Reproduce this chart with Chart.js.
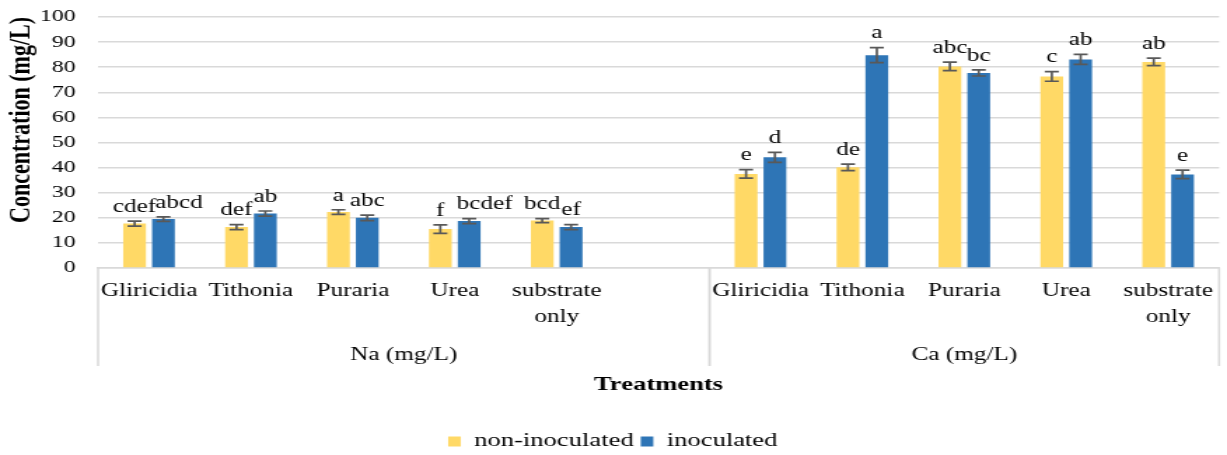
<!DOCTYPE html>
<html>
<head>
<meta charset="utf-8">
<script src="https://cdn.jsdelivr.net/npm/chart.js@4.4.1/dist/chart.umd.min.js"></script>
<style>
  html, body { margin: 0; padding: 0; background: #fff; overflow: hidden; }
  /* el original está estirado en horizontal, así que se estira el lienzo */
  #wrap { width: 876px; height: 455px; transform: scaleX(1.4007); transform-origin: 0 0; }
</style>
</head>
<body>
<div id="wrap"><canvas id="chart" width="876" height="455"></canvas></div>
<script>
// Categorías del eje X (la posición vacía separa Na de Ca)
const categories = ['Gliricidia', 'Tithonia', 'Puraria', 'Urea', ['substrate', 'only'], '',
                    'Gliricidia', 'Tithonia', 'Puraria', 'Urea', ['substrate', 'only']];
const groups = ['Na (mg/L)', 'Ca (mg/L)'];
const groupSize = [6, 5];

// Valores medios y errores
const nonInoculated = [17.7, 16.3, 22.3, 15.5, 18.9, null, 37.5, 40.1, 80.3, 76.3, 82.1];
const inoculated    = [19.5, 21.7, 20.0, 18.7, 16.3, null, 44.1, 84.8, 77.7, 83.1, 37.3];
const errNon        = [1.0, 1.0, 0.9, 1.7, 0.8, null, 1.7, 1.3, 1.7, 1.9, 1.5];
const errInoc       = [0.9, 1.0, 1.1, 1.0, 1.0, null, 2.0, 3.0, 1.2, 2.0, 1.7];

// Letras de significancia
const lettersNon  = ['cdef', 'def', 'a', 'f', 'bcd', '', 'e', 'de', 'abc', 'c', 'ab'];
const lettersInoc = ['abcd', 'ab', 'abc', 'bcdef', 'ef', '', 'd', 'a', 'bc', 'ab', 'e'];

const yTicks = [0, 10, 20, 30, 40, 50, 60, 70, 80, 90, 100];

const serif = 'Liberation Serif, "Times New Roman", serif';

// Plugin: barras de error y letras encima
const errorBars = {
  id: 'errorBars',
  afterDatasetsDraw(chart) {
    const ctx = chart.ctx;
    const y = chart.scales.y;
    chart.data.datasets.forEach((ds, i) => {
      const meta = chart.getDatasetMeta(i);
      meta.data.forEach((bar, j) => {
        const v = ds.data[j];
        if (v == null) return;
        const e = ds.errors[j];
        const top = y.getPixelForValue(v + e);
        const bot = y.getPixelForValue(v - e);
        ctx.save();
        ctx.strokeStyle = '#595959';
        ctx.lineWidth = 1.7;
        ctx.beginPath();
        ctx.moveTo(bar.x, top); ctx.lineTo(bar.x, bot);
        ctx.moveTo(bar.x - 5, top); ctx.lineTo(bar.x + 5, top);
        ctx.moveTo(bar.x - 5, bot); ctx.lineTo(bar.x + 5, bot);
        ctx.stroke();
        // algunas letras se desplazan para no chocar (como en el original)
        const shift = (ds.letters[j] === 'abcd' || ds.letters[j] === 'bcdef') ? 11 : 0;
        ctx.fillStyle = '#000';
        ctx.font = '18px ' + serif;
        ctx.textAlign = 'center';
        ctx.textBaseline = 'bottom';
        ctx.fillText(ds.letters[j], bar.x + shift, top - 5);
        ctx.restore();
      });
    });
  }
};

// Plugin: separadores y nombres de grupo bajo el eje X
const groupLabels = {
  id: 'groupLabels',
  afterDraw(chart) {
    const ctx = chart.ctx;
    const x = chart.scales.x;
    const half = (x.getPixelForValue(1) - x.getPixelForValue(0)) / 2;
    const top = x.top, bottom = x.top + 98;
    ctx.save();
    ctx.strokeStyle = '#d9d9d9';
    ctx.lineWidth = 1.5;
    let start = 0;
    groups.forEach((g, k) => {
      const left = x.getPixelForValue(start) - half;
      const right = x.getPixelForValue(start + groupSize[k] - 1) + half;
      ctx.beginPath();
      ctx.moveTo(left, top); ctx.lineTo(left, bottom);
      ctx.moveTo(right, top); ctx.lineTo(right, bottom);
      ctx.stroke();
      ctx.fillStyle = '#000';
      ctx.font = '18px ' + serif;
      ctx.textAlign = 'center';
      ctx.textBaseline = 'middle';
      ctx.fillText(g, (left + right) / 2, x.top + 87);
      start += groupSize[k];
    });
    ctx.restore();
  }
};

const ctx = document.getElementById('chart').getContext('2d');
const chart = new Chart(ctx, {
  type: 'bar',
  data: {
    labels: categories,
    datasets: [
      { label: 'non-inoculated', data: nonInoculated, errors: errNon, letters: lettersNon,
        backgroundColor: '#FFD966', categoryPercentage: 0.566, barPercentage: 0.79 },
      { label: 'inoculated', data: inoculated, errors: errInoc, letters: lettersInoc,
        backgroundColor: '#2E75B6', categoryPercentage: 0.566, barPercentage: 0.79 }
    ]
  },
  options: {
    responsive: false,
    animation: false,
    devicePixelRatio: 1,
    layout: { padding: { top: 17, right: 1, bottom: -6, left: 0 } },
    plugins: {
      legend: {
        position: 'bottom',
        labels: { boxWidth: 9, boxHeight: 10, padding: 5, color: '#000',
                  font: { family: serif, size: 19 } }
      },
      tooltip: { enabled: false }
    },
    scales: {
      x: {
        grid: { display: false, drawTicks: false },
        border: { display: true, color: '#d9d9d9', width: 1.5 },
        ticks: { padding: 10, color: '#000', maxRotation: 0, autoSkip: false,
                 font: { family: serif, size: 18, lineHeight: 1.45 } },
        title: { display: true, text: 'Treatments', color: '#000',
                 font: { family: serif, size: 19, weight: 'bold' },
                 padding: { top: 0, bottom: 31 } },
        afterFit(s) { s.height = 159; }
      },
      y: {
        min: 0, max: 100,
        afterBuildTicks(s) { s.ticks = yTicks.map(v => ({ value: v })); },
        ticks: { padding: 0, color: '#000', font: { family: serif, size: 17 } },
        grid: { color: '#d9d9d9', lineWidth: 1.5, drawTicks: true, tickLength: 16,
                tickColor: 'rgba(0,0,0,0)' },
        border: { display: false },
        title: { display: true, text: 'Concentration (mg/L)', align: 'end', color: '#000',
                 font: { family: serif, size: 22, weight: 'bold' },
                 padding: { top: 2, bottom: 0 } },
        afterFit(s) { s.width = 70; }
      }
    }
  },
  plugins: [errorBars, groupLabels]
});
</script>
</body>
</html>
